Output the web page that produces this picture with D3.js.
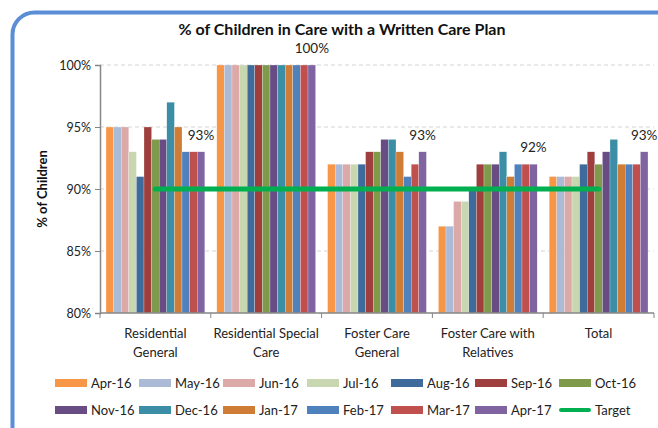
<!DOCTYPE html>
<html><head><meta charset="utf-8">
<script src="https://cdn.jsdelivr.net/npm/d3@7/dist/d3.min.js"></script>
<style>body{margin:0;background:#fff}svg{display:block}text{font-family:Lato,"Liberation Sans",sans-serif}</style>
</head><body><svg id="c" width="658" height="428"></svg>
<script>
const categories = [["Residential","General"],["Residential Special","Care"],["Foster Care","General"],["Foster Care with","Relatives"],["Total"]];
const months = ["Apr-16","May-16","Jun-16","Jul-16","Aug-16","Sep-16","Oct-16","Nov-16","Dec-16","Jan-17","Feb-17","Mar-17","Apr-17"];
const colors = ["#F79646","#AABAD7","#DBA9A8","#C9D7B0","#3F6A9C","#9E3F3E","#809A4B","#674D84","#3B8EA5","#CF7C37","#4F81BD","#C0504D","#8064A2"];
// values per month (series), per category (in %)
const residentialGeneral = [95,95,95,93,91,95,94,94,97,95,93,93,93];
const residentialSpecial = [100,100,100,100,100,100,100,100,100,100,100,100,100];
const fosterGeneral = [92,92,92,92,92,93,93,94,94,93,91,92,93];
const fosterRelatives = [87,87,89,89,90,92,92,92,93,91,92,92,92];
const total = [91,91,91,91,92,93,92,93,94,92,92,92,93];
const target = [90,90,90,90,90];
const yTicks = [80,85,90,95,100];

const catValues = [residentialGeneral,residentialSpecial,fosterGeneral,fosterRelatives,total];
const svg = d3.select("#c");

// border
svg.append("rect").attr("x",12.5).attr("y",12.5).attr("width",700).attr("height",500)
  .attr("rx",22).attr("fill","none").attr("stroke","#5B8ED7").attr("stroke-width",4);

const L=100,R=654,T=65,B=313;
const x0 = d3.scaleBand().domain(d3.range(categories.length)).range([L,R]).padding(0);
const bw = x0.bandwidth();
const x1 = d3.scaleBand().domain(d3.range(months.length)).range([6,bw-6]).padding(0);
const y = d3.scaleLinear().domain([80,100]).range([B,T]);

// gridlines
svg.append("g").selectAll("line").data(yTicks.filter(d=>d>80)).join("line")
  .attr("x1",L).attr("x2",R).attr("y1",d=>y(d)).attr("y2",d=>y(d))
  .attr("stroke","#d4d4d4").attr("stroke-dasharray","4,3").attr("stroke-width",1);

// bars
const g = svg.append("g");
catValues.forEach((vals,ci)=>{
  g.append("g").selectAll("rect").data(vals).join("rect")
    .attr("x",(d,i)=>x0(ci)+x1(i)).attr("width",x1.bandwidth())
    .attr("y",d=>y(d)).attr("height",d=>y(80)-y(d))
    .attr("fill",(d,i)=>colors[i]).attr("stroke","#ffffff").attr("stroke-width",0.4).attr("stroke-opacity",0.6);
  const last = vals[vals.length-1];
  svg.append("text").attr("x",x0(ci)+x1(vals.length-1)+x1.bandwidth()/2).attr("y",y(last)-12)
    .attr("text-anchor","middle").attr("font-size",13.5).attr("fill","#222").text(last+"%");
});

// target line
const line = d3.line().x((d,i)=>x0(i)+bw/2).y(d=>y(d));
svg.append("path").attr("d",line(target)).attr("fill","none").attr("stroke","#00B050")
  .attr("stroke-width",5).attr("stroke-linecap","round");

// axes
const yAxis = d3.axisLeft(y).tickValues(yTicks).tickFormat(d=>d+"%").tickSize(5).tickPadding(4);
const ya = svg.append("g").attr("transform",`translate(${L},0)`).call(yAxis);
ya.select(".domain").attr("stroke","#868686").attr("stroke-width",1.5);
ya.selectAll(".tick line").attr("stroke","#868686");
ya.selectAll("text").attr("font-size",12.5).attr("fill","#222").attr("font-family","Lato,sans-serif");

const xa = svg.append("g").attr("transform",`translate(0,${B})`);
xa.append("line").attr("x1",L).attr("x2",R).attr("stroke","#868686").attr("stroke-width",1.5);
xa.selectAll("line.tk").data(d3.range(categories.length+1)).join("line").attr("class","tk")
  .attr("x1",i=>L+i*bw).attr("x2",i=>L+i*bw).attr("y1",0).attr("y2",5).attr("stroke","#868686");
categories.forEach((c,ci)=>{
  const t = svg.append("text").attr("x",x0(ci)+bw/2).attr("y",338).attr("text-anchor","middle")
    .attr("font-size",13).attr("fill","#222");
  c.forEach((s,k)=>t.append("tspan").attr("x",x0(ci)+bw/2).attr("dy",k?19:0).text(s));
});

// titles
svg.append("text").attr("x",342).attr("y",35).attr("text-anchor","middle").attr("font-size",16)
  .attr("font-weight","bold").attr("fill","#111").text("% of Children in Care with a Written Care Plan");
svg.append("text").attr("transform","translate(47,189) rotate(-90)").attr("text-anchor","middle")
  .attr("font-size",13).attr("font-weight","bold").attr("fill","#111").text("% of Children");

// legend
const legendItems = months.map((m,i)=>({name:m,color:colors[i],type:"rect"})).concat([{name:"Target",color:"#00B050",type:"line"}]);
const lg = svg.append("g").selectAll("g").data(legendItems).join("g")
  .attr("transform",(d,i)=>`translate(${55+(i%7)*84},${i<7?383:410})`);
lg.filter(d=>d.type==="rect").append("rect").attr("x",0).attr("y",-4).attr("width",32).attr("height",8).attr("fill",d=>d.color);
lg.filter(d=>d.type==="line").append("line").attr("x1",2).attr("x2",30).attr("y1",0).attr("y2",0)
  .attr("stroke",d=>d.color).attr("stroke-width",4).attr("stroke-linecap","round");
lg.append("text").attr("x",36).attr("y",4.5).attr("font-size",13).attr("fill","#222").text(d=>d.name);
</script></body></html>
